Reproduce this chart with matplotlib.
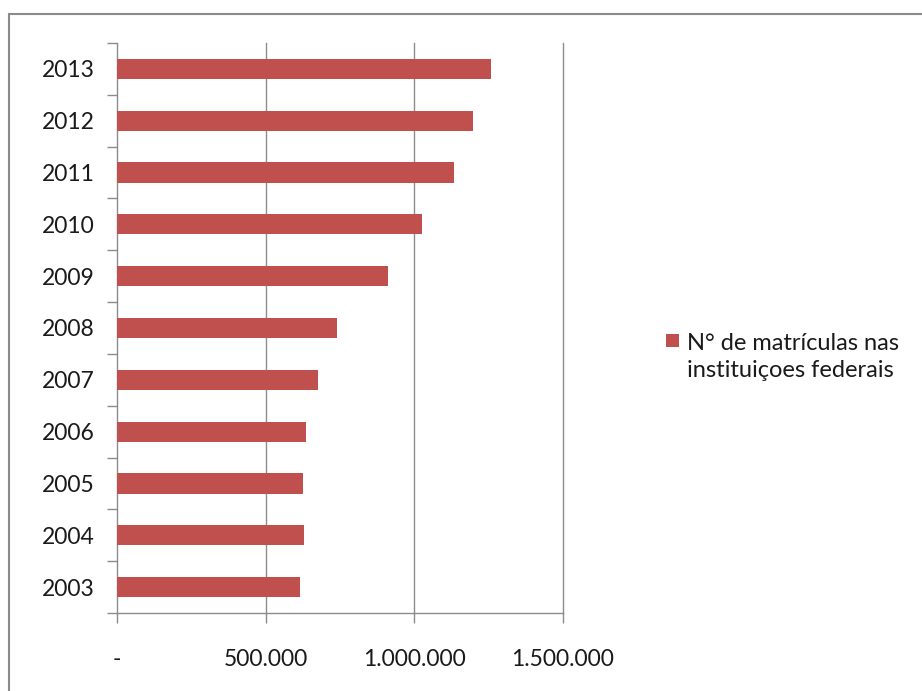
import matplotlib
matplotlib.use("Agg")
import matplotlib.pyplot as plt
import numpy as np
from matplotlib.patches import Rectangle

years = ["2003", "2004", "2005", "2006", "2007", "2008", "2009", "2010", "2011", "2012", "2013"]
matriculas = [616000, 629000, 625000, 637000, 677000, 741000, 911000, 1027000, 1136000, 1200000, 1260000]
series_label = "N° de matrículas nas\ninstituiçoes federais"
x_ticks = [0, 500000, 1000000, 1500000]
x_tick_labels = ["-", "500.000", "1.000.000", "1.500.000"]

BAR_COLOR = "#C0504D"
GRID = "#8c8c8c"
TEXT = "#1a1a1a"
FS = 16.5

plt.rcParams["font.family"] = ["Lato", "DejaVu Sans"]

fig = plt.figure(figsize=(9.22, 6.91), dpi=100)
ax = fig.add_axes([117 / 922, 1 - 613 / 691, (562.5 - 117) / 922, (613 - 43) / 691])

ypos = np.arange(len(years))
ax.barh(ypos, matriculas, height=0.39, color=BAR_COLOR, zorder=3)

ax.set_xlim(0, 1500000)
ax.set_ylim(-0.5, len(years) - 0.5)

ax.set_xticks(x_ticks)
ax.set_xticklabels(x_tick_labels, fontsize=FS, color=TEXT)
ax.set_yticks(ypos)
ax.set_yticklabels(years, fontsize=FS, color=TEXT)
ax.set_yticks(np.arange(-0.5, len(years), 1.0), minor=True)

ax.tick_params(axis="y", which="major", length=0, pad=16)
ax.tick_params(axis="y", which="minor", length=7, width=1, color=GRID, direction="out")
ax.tick_params(axis="x", which="major", length=7, width=1, color=GRID, direction="out", pad=19)

for x in x_ticks[1:]:
    ax.axvline(x, color=GRID, linewidth=1, zorder=0, clip_on=False)
for side in ["top", "right"]:
    ax.spines[side].set_visible(False)
for side in ["left", "bottom"]:
    ax.spines[side].set_color(GRID)
    ax.spines[side].set_linewidth(1)

# legend drawn by hand: square aligned to the first text line
fig.patches.append(Rectangle((666 / 922, 1 - 347 / 691), 13 / 922, 13 / 691, transform=fig.transFigure,
                             facecolor=BAR_COLOR, edgecolor="none"))
fig.text(687 / 922, 1 - 357 / 691, series_label, fontsize=17, color=TEXT,
         ha="left", va="center", linespacing=1.4)

# outer chart frame
fig.patches.append(Rectangle((9 / 922, -0.05), 1.2, 1 - 14 / 691 + 0.05, transform=fig.transFigure,
                             fill=False, edgecolor="#8a8a8a", linewidth=1.5))

fig.savefig("out.png", dpi=100)
